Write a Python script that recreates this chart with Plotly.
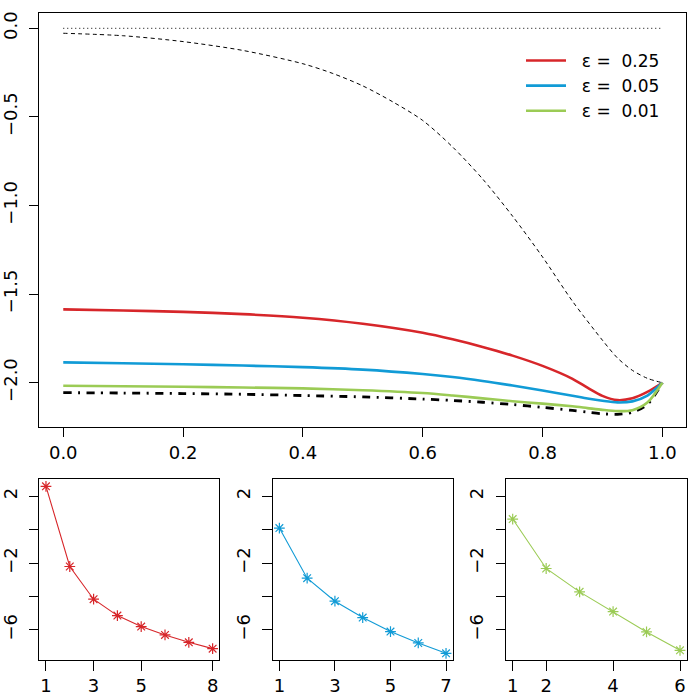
import plotly.graph_objects as go

W = H = 700.0

# ---------------- data ----------------
x_ref = [0.0, 1.0]
y_ref = [0.0, 0.0]

x_dash = [0.0, 0.1, 0.2, 0.3, 0.4, 0.45, 0.5, 0.55, 0.6, 0.65, 0.7, 0.75, 0.8, 0.85, 0.9,
          0.925, 0.95, 0.975, 1.0]
y_dash = [-0.028, -0.042, -0.075, -0.125, -0.200, -0.255, -0.325, -0.415, -0.52, -0.67,
          -0.85, -1.06, -1.29, -1.54, -1.76, -1.86, -1.93, -1.975, -2.0]

x_curve = [0.0, 0.1, 0.2, 0.3, 0.4, 0.5, 0.6, 0.65, 0.7, 0.75, 0.8, 0.85, 0.875, 0.9, 0.925,
           0.95, 0.975, 1.0]
y_eps025 = [-1.586, -1.592, -1.600, -1.613, -1.633, -1.667, -1.718, -1.755, -1.798, -1.847,
            -1.905, -1.978, -2.028, -2.074, -2.098, -2.088, -2.052, -2.0]
y_eps005 = [-1.885, -1.890, -1.896, -1.903, -1.912, -1.926, -1.951, -1.968, -1.990, -2.016,
            -2.044, -2.073, -2.089, -2.102, -2.111, -2.105, -2.072, -2.0]
y_eps001 = [-2.017, -2.020, -2.023, -2.027, -2.032, -2.042, -2.058, -2.072, -2.088, -2.104,
            -2.118, -2.133, -2.143, -2.153, -2.160, -2.155, -2.112, -2.0]
y_limit = [-2.056, -2.058, -2.061, -2.065, -2.072, -2.080, -2.092, -2.100, -2.110, -2.123,
           -2.139, -2.156, -2.166, -2.175, -2.178, -2.166, -2.122, -2.0]

legend_names = ["ε =  0.25", "ε =  0.05", "ε =  0.01"]
colors = ["#D7262A", "#119BD6", "#9BCB55"]

n1 = [1, 2, 3, 4, 5, 6, 7, 8]
v1 = [2.6, -2.2, -4.16, -5.14, -5.8, -6.3, -6.74, -7.12]
n2 = [1, 2, 3, 4, 5, 6, 7]
v2 = [0.1, -2.9, -4.28, -5.26, -6.1, -6.78, -7.4]
n3 = [1, 2, 3, 4, 5, 6]
v3 = [0.64, -2.32, -3.72, -4.9, -6.12, -7.22]

main_xticks = [0.0, 0.2, 0.4, 0.6, 0.8, 1.0]
main_xtext = ["0.0", "0.2", "0.4", "0.6", "0.8", "1.0"]
main_yticks = [0.0, -0.5, -1.0, -1.5, -2.0]
main_ytext = ["0.0", "−0.5", "−1.0", "−1.5", "−2.0"]
small_yticks = [2, 0, -2, -4, -6]
small_ytext = ["2", "", "−2", "", "−6"]
small_xticks = [[1, 3, 5, 8], [1, 3, 5, 7], [1, 2, 4, 6]]

# ---------------- figure ----------------
FONT = "DejaVu Sans, Liberation Sans, Arial, sans-serif"
NB = "\u00a0\u00a0"
fig = go.Figure()

fig.add_trace(go.Scatter(x=x_ref, y=y_ref, mode="lines", showlegend=False,
                         line=dict(color="black", width=1, dash="1px,3px"),
                         xaxis="x", yaxis="y", hoverinfo="skip"))
fig.add_trace(go.Scatter(x=x_dash, y=y_dash, mode="lines", showlegend=False,
                         line=dict(color="black", width=1, dash="4px,3.3px", shape="spline",
                                   smoothing=0.8),
                         xaxis="x", yaxis="y"))
fig.add_trace(go.Scatter(x=x_curve, y=y_limit, mode="lines", showlegend=False,
                         line=dict(color="black", width=2.8, dash="8px,6.5px,2px,6.5px",
                                   shape="spline", smoothing=0.8),
                         xaxis="x", yaxis="y"))
for name, ys, c in zip(legend_names, [y_eps025, y_eps005, y_eps001], colors):
    fig.add_trace(go.Scatter(x=x_curve, y=ys, mode="lines", name=NB + name,
                             line=dict(color=c, width=2.6, shape="spline", smoothing=0.8),
                             xaxis="x", yaxis="y"))

for i, (nn, vv, c) in enumerate(zip([n1, n2, n3], [v1, v2, v3], colors)):
    k = str(i + 2)
    fig.add_trace(go.Scatter(x=nn, y=vv, mode="lines+markers", showlegend=False,
                             line=dict(color=c, width=1.1),
                             marker=dict(symbol="asterisk-open", size=9,
                                         line=dict(color=c, width=1.2)),
                             xaxis="x" + k, yaxis="y" + k))

common = dict(showgrid=False, zeroline=False, showline=True, mirror=True,
              linecolor="black", linewidth=1, ticks="outside", ticklen=9.5,
              tickwidth=1, tickcolor="black",
              tickfont=dict(family=FONT, size=18, color="black"))

layout = dict(
    width=700, height=700, margin=dict(l=0, r=0, t=0, b=0),
    paper_bgcolor="white", plot_bgcolor="white",
    font=dict(family=FONT, size=18, color="black"),
    showlegend=True,
    legend=dict(x=521 / W, y=1 - 43 / H, xanchor="left", yanchor="top",
                bgcolor="rgba(0,0,0,0)", borderwidth=0,
                font=dict(family=FONT, size=17, color="black"),
                itemwidth=40, tracegroupgap=0),
    xaxis=dict(domain=[39.3 / W, 686.3 / W], range=[-0.04, 1.04], anchor="y",
               tickmode="array", tickvals=main_xticks, ticktext=main_xtext, **common),
    yaxis=dict(domain=[1 - 426.7 / H, 1 - 12.7 / H], range=[-2.248, 0.088], anchor="x",
               tickmode="array", tickvals=main_yticks, ticktext=main_ytext,
               tickangle=-90, ticklabelstandoff=5, **common),
)

xdoms = [[39.3, 219.3], [272.7, 452.7], [506.0, 686.7]]
xranges = [[0.72, 8.28], [0.76, 7.24], [0.8, 6.2]]
for i in range(3):
    k = str(i + 2)
    layout["xaxis" + k] = dict(domain=[xdoms[i][0] / W, xdoms[i][1] / W], range=xranges[i],
                               anchor="y" + k, tickmode="array", tickvals=small_xticks[i],
                               ticktext=[str(t) for t in small_xticks[i]], **common)
    layout["yaxis" + k] = dict(domain=[1 - 660 / H, 1 - 479.3 / H], range=[-7.8, 3.02],
                               anchor="x" + k, tickmode="array", tickvals=small_yticks,
                               ticktext=small_ytext, tickangle=-90, ticklabelstandoff=5,
                               **common)

fig.update_layout(**layout)
fig.write_html("out.html", config={"displayModeBar": False},
               post_script="document.body.style.margin='0px';")
